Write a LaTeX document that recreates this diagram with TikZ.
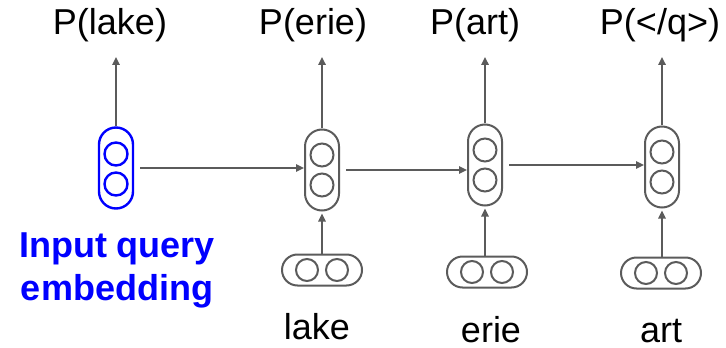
\documentclass[tikz,border=0pt]{standalone}
\usepackage{fontspec}
\setmainfont{Liberation Sans}
\usetikzlibrary{arrows.meta, positioning}

\begin{document}
\begin{tikzpicture}[x=0.5pt, y=-0.5pt]

% ---------------------------------------------------------------- colours
\definecolor{wire}{HTML}{5B5B5B}    % cells, arrows
\definecolor{query}{HTML}{0000FF}   % the query vector and its label
\definecolor{ink}{HTML}{000000}

% ---------------------------------------------------------------- styles
\tikzset{
    cell/.style={
        rectangle, rounded corners=8.5pt, minimum width=17pt,
        minimum height=40.5pt, inner sep=0pt,
        draw=wire, line width=1pt,
    },
    qcell/.style={
        cell, draw=query, line width=1.2pt,
    },
    token/.style={
        rectangle, rounded corners=7.75pt, minimum width=40pt,
        minimum height=15.5pt, inner sep=0pt,
        draw=wire, line width=1pt,
    },
    unit/.style={
        circle, minimum size=11.5pt, inner sep=0pt,
        draw=wire, line width=1pt,
    },
    arr/.style={
        -{Triangle[length=4pt, width=3.6pt]}, line width=1pt, wire,
    },
    word/.style={
        anchor=base, inner sep=3pt, text=ink,
        font=\fontsize{18}{21.5}\selectfont,
    },
}

% ================================================================
% GEOMETRY (one unit = one pixel, y downwards)
%   output labels   baseline y = 35
%   decoder cells   y around 167
%   input tokens    y around 271
%   input words     baseline y = 339 .. 343
% ================================================================

\useasboundingbox (0,0) rectangle (726,347);

% ---------------------------------------------------------------- query
\node[qcell] (h1) at (116,168) {};
\node[unit, draw=query, line width=1.2pt] (h1a) at (116,154) {};
\node[unit, draw=query, line width=1.2pt] (h1b) at (116,184) {};
\node[word, font=\bfseries\fontsize{18}{21.5}\selectfont, text=query,
      align=center] (qlabel) at (117,300) {Input query\\embedding};

% ---------------------------------------------------------------- decoder
\foreach \n/\x/\y in {h2/322/170, h3/485/165, h4/662/167} {
    \node[cell] (\n) at (\x,\y) {};
    \node[unit] (\n a) at (\x,\y-15) {};
    \node[unit] (\n b) at (\x,\y+15) {};
}

\foreach \n/\x/\y in {x2/322/270, x3/487/272, x4/661/273} {
    \node[token] (\n) at (\x,\y) {};
    \node[unit, minimum size=11pt] (\n a) at (\x-15,\y) {};
    \node[unit, minimum size=11pt] (\n b) at (\x+15,\y) {};
}

% ---------------------------------------------------------------- labels
\node[word] (p1) at (110,35) {P(lake)};
\node[word] (p2) at (313,35) {P(erie)};
\node[word] (p3) at (475,35) {P(art)};
\node[word] (p4) at (660,35) {P(</q>)};

\node[word] (w2) at (317,339) {lake};
\node[word] (w3) at (491,342) {erie};
\node[word] (w4) at (661,342) {art};

% ---------------------------------------------------------------- arrows
\foreach \i in {1,...,4} {
    \draw[arr, shorten >=4pt] (h\i.north) -- (h\i.north |- p\i.south);
}
\foreach \i in {2,3,4} {
    \draw[arr, shorten >=1pt] (h\i.south |- x\i.north) -- (h\i.south);
}
\foreach \i/\j in {h1/h2, h2/h3, h3/h4} {
    \draw[arr, shorten <=3pt] (\i.east) -- (\i.east -| \j.west);
}

\end{tikzpicture}
\end{document}
